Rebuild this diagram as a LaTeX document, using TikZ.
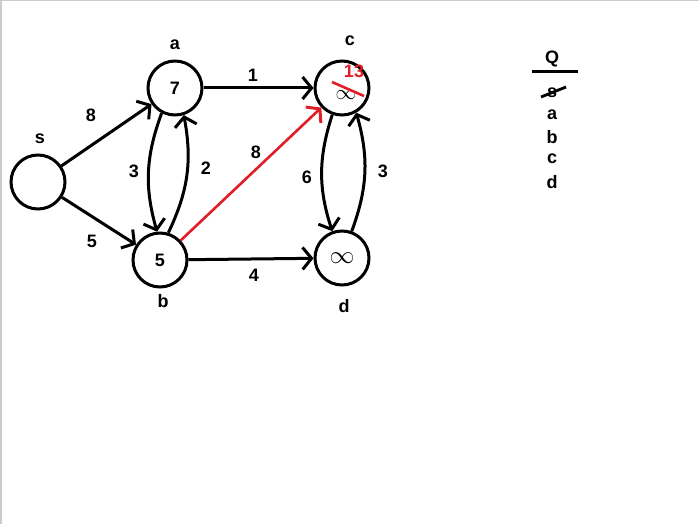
\documentclass[tikz,border=0pt]{standalone}
\usepackage{fontspec}
\setmainfont{Liberation Sans}
\usetikzlibrary{arrows.meta}
\definecolor{pen}{RGB}{224,30,38}
\begin{document}
\begin{tikzpicture}[x=1pt,y=-1pt,font=\bfseries\fontsize{18}{18}\selectfont,
  vert/.style={draw, circle, line width=3pt, minimum size=54pt, inner sep=0pt},
  edge/.style={line width=3pt, -{Straight Barb[length=9pt,width=22pt,line width=3pt]}},
  inf/.style={inner sep=0pt, text height=10pt, text depth=0pt, font=\fontsize{24}{24}\selectfont}]
\useasboundingbox (0,0) rectangle (699,524);
\draw[black!20,line width=1.5pt] (0.75,524) -- (0.75,0.75) -- (699,0.75);

% vertices
\node (s) at (38,182) [vert] {};
\node (a) at (175,88) [vert] {7};
\node (b) at (160,260) [vert] {5};
\node (c) at (342,88) [vert] {};
\node (d) at (342,258) [vert] {};
\node (dinf) at (342,258) [inf] {$\infty$};
\node (ls) at (40,139) {s};
\node (la) at (175,45) {a};
\node (lb) at (163,301) {b};
\node (lc) at (350,41) {c};
\node (ld) at (344,306) {d};

% c was relaxed
\node (cinf) at (346,95) [inf, font=\fontsize{22}{22}\selectfont] {$\infty$};
\node (cnew) at (354,71) [text=pen, inner sep=0pt] {13};
\draw[pen,line width=2.6pt] (c.center) ++(-10,-6) -- ++(32,14);

% edges
\draw[edge] (s) -- (a);
\draw[edge] (s) -- (b);
\draw[edge] (a) -- (c);
\draw[edge] (b) -- (d);
\draw[edge] (a.242) to[bend right=18] (b.96);
\draw[edge] (b.73) to[bend right=18] (a.288);
\draw[edge] (c.250) to[bend right=18] (d.110);
\draw[edge] (d.70) to[bend right=18] (c.300);
\draw[edge,pen,line width=2.6pt] (b) -- (c);

\node (w1) at (91,115) {8};
\node (w2) at (92,241) {5};
\node (w3) at (134,171) {3};
\node (w4) at (206,168) {2};
\node (w5) at (253,75) {1};
\node (w6) at (256,152) {8};
\node (w7) at (254,275) {4};
\node (w8) at (307,177) {6};
\node (w9) at (383,171) {3};

% queue
\node (q) at (552,59) {Q};
\draw[line width=3pt] (532,72) -- (578,72);
\foreach \v/\y in {s/93,a/115,b/137,c/159,d/182}
    \node (q\v) at (552,\y) {\v};
\draw[line width=2.8pt] (qs.center) ++(-11,4) -- ++(25,-10);

\end{tikzpicture}
\end{document}
